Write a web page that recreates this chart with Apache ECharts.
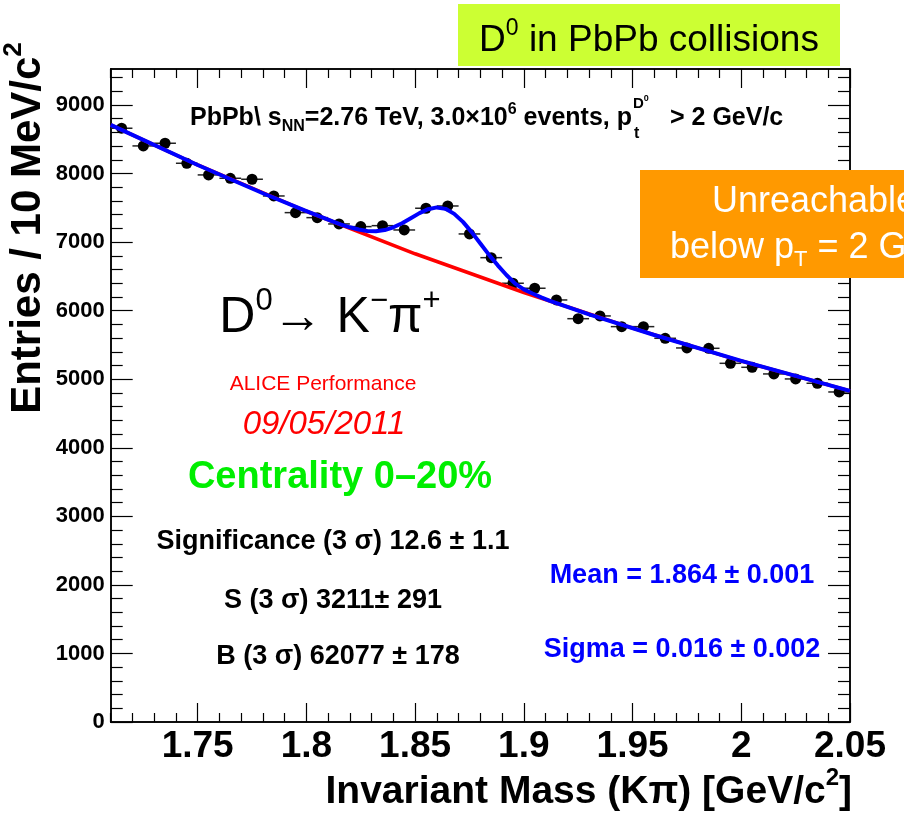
<!DOCTYPE html>
<html>
<head>
<meta charset="utf-8">
<title>D0 in PbPb collisions</title>
<script src="https://cdn.jsdelivr.net/npm/echarts@6/dist/echarts.min.js"></script>
<style>
html, body { margin: 0; padding: 0; background: #fff; }
#main { width: 904px; height: 822px; }
</style>
</head>
<body>
<div id="main"></div>
<script>
// bin centres (GeV/c^2) and entries per 10 MeV/c^2
var massBins = [1.715, 1.725, 1.735, 1.745, 1.755, 1.765, 1.775, 1.785, 1.795, 1.805,
  1.815, 1.825, 1.835, 1.845, 1.855, 1.865, 1.875, 1.885, 1.895, 1.905,
  1.915, 1.925, 1.935, 1.945, 1.955, 1.965, 1.975, 1.985, 1.995, 2.005,
  2.015, 2.025, 2.035, 2.045];
var entries = [8661, 8403, 8442, 8150, 7980, 7931, 7917, 7673, 7430, 7357,
  7265, 7226, 7240, 7177, 7494, 7527, 7119, 6773, 6400, 6327,
  6156, 5883, 5923, 5767, 5767, 5597, 5456, 5451, 5232, 5174,
  5077, 5004, 4941, 4814];
var binHalfWidth = 0.005;

// fit curves: signal+background (blue) and background (red)
var fitMass = [1.71, 1.75, 1.78, 1.80, 1.812, 1.816, 1.820, 1.824, 1.828, 1.832,
  1.836, 1.840, 1.844, 1.848, 1.852, 1.856, 1.860, 1.864, 1.868, 1.872,
  1.876, 1.880, 1.884, 1.888, 1.892, 1.896, 1.900, 1.904, 1.908, 1.912,
  1.930, 1.960, 2.000, 2.050];
var fitTotal = [8710, 8125, 7713, 7452, 7301, 7256, 7216, 7183, 7163, 7159,
  7176, 7216, 7276, 7349, 7423, 7480, 7506, 7485, 7412, 7295,
  7146, 6980, 6814, 6661, 6520, 6395, 6310, 6250, 6195, 6144,
  5946, 5645, 5267, 4830];
var bkgMass = [1.71, 1.75, 1.80, 1.85, 1.90, 1.95, 2.00, 2.05];
var bkgOnly = [8710, 8125, 7450, 6830, 6265, 5745, 5265, 4830];

// axis ticks
var xMajor = [1.75, 1.8, 1.85, 1.9, 1.95, 2, 2.05];
var yMajor = [0, 1000, 2000, 3000, 4000, 5000, 6000, 7000, 8000, 9000];
var xMinor = [];
for (var k = 171; k <= 205; k++) { if (k % 5 !== 0) xMinor.push(k / 100); }
var yMinor = [];
for (var v = 200; v <= 9400; v += 200) { if (v % 1000 !== 0) yMinor.push(v); }

var FONT = 'Liberation Sans, Arial, Helvetica, sans-serif';

var chart = echarts.init(document.getElementById('main'));

function plainNum(val) { return String(val); }

function xAxisDef(pos, ticks, len, withLabels) {
  return {
    type: 'value', position: pos, min: 1.71, max: 2.05,
    axisLine: { show: true, onZero: false, lineStyle: { color: '#000', width: 1.5 } },
    axisTick: { show: true, inside: true, length: len, customValues: ticks,
      lineStyle: { color: '#000', width: 1.2 } },
    axisLabel: withLabels ? { show: true, customValues: xMajor, margin: 6, color: '#000',
      formatter: plainNum, fontFamily: FONT, fontWeight: 'bold', fontSize: 37 } : { show: false },
    splitLine: { show: false }
  };
}
function yAxisDef(pos, ticks, len, withLabels) {
  return {
    type: 'value', position: pos, min: 0, max: 9525,
    axisLine: { show: true, onZero: false, lineStyle: { color: '#000', width: 1.5 } },
    axisTick: { show: true, inside: true, length: len, customValues: ticks,
      lineStyle: { color: '#000', width: 1.2 } },
    axisLabel: withLabels ? { show: true, customValues: yMajor, margin: 6, color: '#000',
      formatter: plainNum, fontFamily: FONT, fontWeight: 'bold', fontSize: 22 } : { show: false },
    splitLine: { show: false }
  };
}

function txt(x, y, text, opt) {
  var st = { x: 0, y: 0, text: text, fill: opt.color || '#000',
    font: (opt.style || 'normal') + ' ' + (opt.weight || 'normal') + ' ' + opt.size + 'px ' + FONT,
    align: opt.align || 'center', verticalAlign: 'middle' };
  if (opt.rich) st.rich = opt.rich;
  return { type: 'text', x: x, y: y, rotation: opt.rotation || 0, style: st, z: 100 };
}
function richSet(size, weight, color) {
  var sub = Math.round(size * 0.62);
  return {
    n: { fontSize: size, fontWeight: weight, fontFamily: FONT, fill: color, lineHeight: size * 1.3 },
    sup: { fontSize: sub, fontWeight: weight, fontFamily: FONT, fill: color, verticalAlign: 'top', lineHeight: sub },
    sub: { fontSize: sub, fontWeight: weight, fontFamily: FONT, fill: color, verticalAlign: 'bottom', lineHeight: sub }
  };
}

var option = {
  backgroundColor: '#fff',
  animation: false,
  grid: { left: 110.7, right: 54, top: 69, bottom: 100, containLabel: false },
  xAxis: [
    xAxisDef('bottom', xMajor, 19, true),
    xAxisDef('bottom', xMinor, 9, false),
    xAxisDef('top', xMajor, 19, false),
    xAxisDef('top', xMinor, 9, false)
  ],
  yAxis: [
    yAxisDef('left', yMajor, 22, true),
    yAxisDef('left', yMinor, 12, false),
    yAxisDef('right', yMajor, 22, false),
    yAxisDef('right', yMinor, 12, false)
  ],
  series: [
    {
      type: 'custom', xAxisIndex: 0, yAxisIndex: 0, z: 2,
      data: massBins.map(function (m, i) { return [m, entries[i]]; }),
      encode: { x: 0, y: 1 },
      renderItem: function (params, api) {
        var x = api.value(0), y = api.value(1);
        var a = api.coord([x - binHalfWidth, y]);
        var b = api.coord([x + binHalfWidth, y]);
        return { type: 'line', shape: { x1: a[0], y1: a[1], x2: b[0], y2: b[1] },
          style: { stroke: '#222', lineWidth: 1.5 } };
      }
    },
    {
      type: 'scatter', xAxisIndex: 0, yAxisIndex: 0, z: 3,
      symbol: 'circle', symbolSize: 11,
      itemStyle: { color: '#000', opacity: 1 },
      data: massBins.map(function (m, i) { return [m, entries[i]]; })
    },
    {
      type: 'line', xAxisIndex: 0, yAxisIndex: 0, z: 4,
      showSymbol: false, symbol: 'none',
      lineStyle: { color: '#ff0000', width: 3.5 },
      data: bkgMass.map(function (m, i) { return [m, bkgOnly[i]]; })
    },
    {
      type: 'line', xAxisIndex: 0, yAxisIndex: 0, z: 5,
      showSymbol: false, symbol: 'none',
      lineStyle: { color: '#0000ff', width: 4, join: 'round' },
      data: fitMass.map(function (m, i) { return [m, fitTotal[i]]; })
    }
  ],
  graphic: [
    // title box
    { type: 'rect', shape: { x: 458, y: 4, width: 382, height: 62 }, style: { fill: '#ccff33' }, z: 90 },
    txt(649, 41, '{n|D}{sup|0}{n| in PbPb collisions}', { size: 37, rich: richSet(37, 'normal', '#000') }),
    // orange box
    { type: 'rect', shape: { x: 640, y: 170, width: 300, height: 108 }, style: { fill: '#ff9900' }, z: 90 },
    txt(712, 202, 'Unreachable', { size: 36, align: 'left', color: '#fff' }),
    txt(670, 248, '{n|below p}{sub|T}{n| = 2 GeV/c}', { size: 36, align: 'left', rich: richSet(36, 'normal', '#fff') }),
    // header
    txt(190, 118, '{n|PbPb\\ s}{sub|NN}{n|=2.76 TeV, 3.0\u00d710}{sup|6}{n| events, p}',
      { size: 25, align: 'left', rich: richSet(25, 'bold', '#000') }),
    txt(634, 134, 't', { size: 16, weight: 'bold', align: 'left' }),
    txt(633, 104, '{n|D}{sup|0}', { size: 15, align: 'left', rich: richSet(15, 'bold', '#000') }),
    txt(670, 118, '> 2 GeV/c', { size: 25, weight: 'bold', align: 'left' }),
    // decay
    txt(330, 318, '{n|D}{sup|0}{n|\u2192 K}{sup|\u2212}{n|\u03c0}{sup|+}', { size: 50, rich: richSet(50, 'normal', '#000') }),
    txt(323, 384, 'ALICE Performance', { size: 21, color: '#ff0000' }),
    txt(324, 425, '09/05/2011', { size: 33, style: 'italic', color: '#ff0000' }),
    txt(340, 478, 'Centrality 0\u201320%', { size: 38, weight: 'bold', color: '#00ee00' }),
    txt(333, 542, 'Significance (3 \u03c3) 12.6 \u00b1 1.1', { size: 27, weight: 'bold' }),
    txt(333, 601, 'S (3 \u03c3) 3211\u00b1 291', { size: 27, weight: 'bold' }),
    txt(338, 657, 'B (3 \u03c3) 62077 \u00b1 178', { size: 27, weight: 'bold' }),
    txt(682, 576, 'Mean = 1.864 \u00b1 0.001', { size: 27, weight: 'bold', color: '#0000ff' }),
    txt(682, 650, 'Sigma = 0.016 \u00b1 0.002', { size: 27, weight: 'bold', color: '#0000ff' }),
    // axis titles
    txt(28, 228, '{n|Entries / 10 MeV/c}{sup|2}', { size: 42, rotation: Math.PI / 2, rich: richSet(42, 'bold', '#000') }),
    txt(852, 792, '{n|Invariant Mass (K\u03c0) [GeV/c}{sup|2}{n|]}', { size: 39, align: 'right', rich: richSet(39, 'bold', '#000') })
  ]
};

chart.setOption(option);
window.onresize = function () { chart.resize(); };
</script>
</body>
</html>
